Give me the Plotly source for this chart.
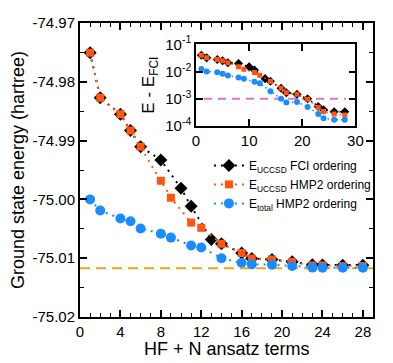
import plotly.graph_objects as go

# ---------------- data ----------------
E_FCI = -75.01173          # FCI reference energy (hartree)
CHEM_ACC = 1e-3            # threshold drawn in inset
CHEM_ACC_SPAN = [1.5, 28.2]

x_fci_order = [1, 2, 4, 5, 6, 8, 10, 11, 13, 14, 16, 17, 19, 21, 23, 24, 26, 28]
e_uccsd_fci = [-74.97505, -74.98272, -74.98550, -74.98828, -74.99105, -74.99328,
               -74.99812, -75.00117, -75.00680, -75.00755, -75.00912, -75.01005,
               -75.01022, -75.01062, -75.01110, -75.01115, -75.01118, -75.01118]

x_hmp2_order = [1, 2, 4, 5, 6, 8, 9, 11, 12, 14, 16, 17, 19, 21, 23, 24, 26, 28]
e_uccsd_hmp2 = [-74.97505, -74.98272, -74.98550, -74.98828, -74.99105, -74.99683,
                -74.99972, -75.00395, -75.00483, -75.00755, -75.00912, -75.01005,
                -75.01022, -75.01062, -75.01122, -75.01122, -75.01133, -75.01133]
e_total_hmp2 = [-75.00000, -75.00189, -75.00325, -75.00372, -75.00495, -75.00583,
                -75.00650, -75.00783, -75.00817, -75.01000, -75.01078, -75.01105,
                -75.01110, -75.01133, -75.01160, -75.01162, -75.01162, -75.01162]

# inset: E - E_FCI (hartree)
d_uccsd_fci = [0.0401, 0.0321, 0.0280, 0.0251, 0.0212, 0.0200, 0.0151, 0.0115,
               0.0055, 0.0044, 0.00245, 0.00166, 0.00145, 0.00100, 0.00052,
               0.00039, 0.00033, 0.00033]
d_uccsd_hmp2 = [0.0401, 0.0321, 0.0280, 0.0251, 0.0212, 0.0151, 0.0122, 0.00923,
                0.0074, 0.0044, 0.00245, 0.00166, 0.00145, 0.00095, 0.00048,
                0.00034, 0.000275, 0.00025]
d_total_hmp2 = [0.0125, 0.0100, 0.0095, 0.0083, 0.0072, 0.0061, 0.0055, 0.0042,
                0.0037, 0.0019, 0.0010, 0.00072, 0.00076, 0.00050, 0.000275,
                0.00019, 0.00017, 0.00017]

x_ticks = [0, 4, 8, 12, 16, 20, 24, 28]
y_tick_vals = [-75.02, -75.01, -75.00, -74.99, -74.98, -74.97]
y_tick_text = ["-75.02", "-75.01", "-75.00", "-74.99", "-74.98", "-74.97"]
inset_x_ticks = [0, 10, 20, 30]
inset_y_vals = [1e-4, 1e-3, 1e-2, 1e-1]
inset_y_text = ["10<sup>-4</sup>", "10<sup>-3</sup>", "10<sup>-2</sup>", "10<sup>-1</sup>"]

names = ["E<sub>UCCSD</sub> FCI ordering",
         "E<sub>UCCSD</sub> HMP2 ordering",
         "E<sub>total</sub> HMP2 ordering"]
x_title = "HF + N ansatz terms"
y_title = "Ground state energy (hartree)"
inset_y_title = "E - E<sub>FCI</sub>"

# ---------------- style ----------------
BLACK = "#000000"
ORANGE = "#ff5511"
BLUE = "#1a8cff"
FCI_COLOR = "#f5a31a"
PINK = "#dd77cc"
FONT = "Arial"

fig = go.Figure()

main_specs = [
    (x_fci_order, e_uccsd_fci, BLACK, "diamond", 10),
    (x_hmp2_order, e_uccsd_hmp2, ORANGE, "square", 8),
    (x_hmp2_order, e_total_hmp2, BLUE, "circle", 10),
]
for (xs, ys, col, sym, sz), nm in zip(main_specs, names):
    fig.add_trace(go.Scatter(
        x=xs, y=ys, mode="lines+markers", name=nm,
        line=dict(color=col, width=2, dash="2px,5px"),
        marker=dict(color=col, symbol=sym, size=sz, line=dict(width=0)),
        xaxis="x", yaxis="y"))

inset_specs = [
    (x_fci_order, d_uccsd_fci, BLACK, "diamond", 7),
    (x_hmp2_order, d_uccsd_hmp2, ORANGE, "square", 5),
    (x_hmp2_order, d_total_hmp2, BLUE, "circle", 6),
]
for xs, ys, col, sym, sz in inset_specs:
    fig.add_trace(go.Scatter(
        x=xs, y=ys, mode="lines+markers", showlegend=False,
        line=dict(color=col, width=1.5, dash="1.5px,3px"),
        marker=dict(color=col, symbol=sym, size=sz, line=dict(width=0)),
        xaxis="x2", yaxis="y2"))

fig.add_shape(type="line", xref="x domain", x0=0, x1=1, yref="y",
              y0=E_FCI, y1=E_FCI, layer="below",
              line=dict(color=FCI_COLOR, width=2, dash="10px,6px"))
fig.add_shape(type="line", xref="x2", x0=CHEM_ACC_SPAN[0], x1=CHEM_ACC_SPAN[1],
              yref="y2", y0=CHEM_ACC, y1=CHEM_ACC, layer="below",
              line=dict(color=PINK, width=2, dash="8px,6px"))

fig.add_annotation(text=x_title, xref="paper", yref="paper", x=0.5, y=-0.11,
                   xanchor="center", yanchor="middle", showarrow=False,
                   font=dict(size=18))

axis_common = dict(showgrid=False, zeroline=False, showline=True,
                   linecolor="black", mirror="allticks", ticks="inside",
                   tickcolor="black")

fig.update_layout(
    width=393, height=363,
    margin=dict(l=80, r=13, t=17, b=46),
    paper_bgcolor="white", plot_bgcolor="white",
    hovermode=False,
    font=dict(family=FONT, color="black", size=15),
    xaxis=dict(**axis_common, domain=[0, 1], range=[0, 29],
               tickvals=x_ticks, ticklen=7, tickwidth=1.5, linewidth=2,
               minor=dict(dtick=1, tick0=0, ticklen=4, tickwidth=1.2, ticks="inside",
                          tickcolor="black"),
               tickfont=dict(size=15)),
    yaxis=dict(**axis_common, domain=[0, 1], range=[-75.02, -74.97],
               tickvals=y_tick_vals, ticktext=y_tick_text, ticklen=7, tickwidth=1.5,
               linewidth=2,
               minor=dict(dtick=0.005, tick0=-75.02, ticklen=4, tickwidth=1.2,
                          ticks="inside", tickcolor="black"),
               tickfont=dict(size=15),
               title=dict(text=y_title, font=dict(size=18), standoff=3)),
    xaxis2=dict(**axis_common, domain=[0.396, 0.94], anchor="y2", range=[0, 30],
                tickvals=inset_x_ticks, ticklen=7, tickwidth=1.5, linewidth=1.5,
                tickfont=dict(size=15)),
    yaxis2=dict(**axis_common, domain=[0.65, 0.927], anchor="x2", type="log",
                range=[-4, -1], tickvals=inset_y_vals, ticktext=inset_y_text,
                ticklen=7, tickwidth=1.5, linewidth=1.5, tickfont=dict(size=15),
                title=dict(text=inset_y_title, font=dict(size=17), standoff=6)),
    legend=dict(x=0.44, y=0.565, xanchor="left", yanchor="top",
                bgcolor="rgba(0,0,0,0)", font=dict(size=12),
                itemwidth=30, tracegroupgap=0),
)

fig.write_html("out.html", config={"displayModeBar": False},
               post_script="document.body.style.margin='0px';")
